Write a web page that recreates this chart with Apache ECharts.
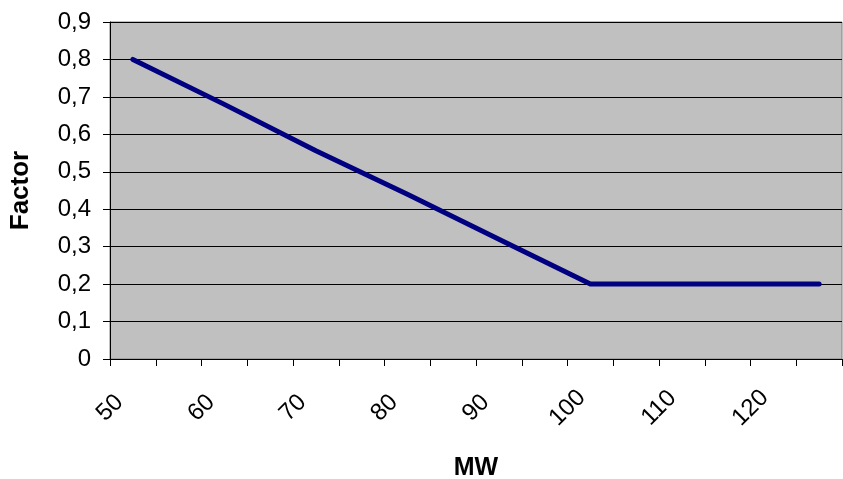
<!DOCTYPE html>
<html>
<head>
<meta charset="utf-8">
<script src="https://cdn.jsdelivr.net/npm/echarts@6/dist/echarts.min.js"></script>
<style>
html,body{margin:0;padding:0;background:#fff;}
#chart{width:843px;height:479px;}
</style>
</head>
<body>
<div id="chart"></div>
<script>
const mwValues = [52.5, 62.5, 72.5, 82.5, 92.5, 102.5, 122.5, 127.5];
const factorValues = [0.8, 0.68, 0.556, 0.44, 0.32, 0.2, 0.2, 0.2];
const xTickLabels = [50, 60, 70, 80, 90, 100, 110, 120];
const xTitle = 'MW';
const yTitle = 'Factor';

const chart = echarts.init(document.getElementById('chart'), null, {renderer: 'canvas'});
const font = '"Liberation Sans", Arial, sans-serif';
chart.setOption({
  animation: false,
  backgroundColor: '#ffffff',
  grid: {
    left: 110, right: 1, top: 22, bottom: 120,
    containLabel: false,
    outerBoundsMode: 'none',
    show: true, backgroundColor: '#C0C0C0', borderColor: '#808080', borderWidth: 1
  },
  xAxis: {
    type: 'value',
    min: 50, max: 130, interval: 5,
    name: xTitle,
    nameLocation: 'middle',
    nameGap: 97,
    nameTextStyle: {fontFamily: font, fontWeight: 'bold', fontSize: 25, color: '#000'},
    axisLine: {show: true, onZero: false, lineStyle: {color: '#000', width: 1}},
    axisTick: {show: true, length: 7, lineStyle: {color: '#000'}},
    splitLine: {show: false},
    axisLabel: {
      rotate: 45, margin: 49, align: 'center', verticalAlign: 'middle',
      fontFamily: font, fontSize: 24, color: '#000',
      formatter: function (v) { return xTickLabels.indexOf(v) >= 0 ? String(v) : ''; }
    }
  },
  yAxis: {
    type: 'value',
    min: 0, max: 0.9, interval: 0.1,
    name: yTitle,
    nameLocation: 'middle',
    nameGap: 76,
    nameRotate: 90,
    nameTextStyle: {fontFamily: font, fontWeight: 'bold', fontSize: 26, color: '#000'},
    axisLine: {show: true, lineStyle: {color: '#000', width: 1}},
    axisTick: {show: true, length: 7, lineStyle: {color: '#000'}},
    splitLine: {show: true, lineStyle: {color: '#000', width: 1}},
    axisLabel: {
      margin: 19, fontFamily: font, fontSize: 24, color: '#000',
      formatter: function (v) { return (Math.round(v * 10) / 10).toString().replace('.', ','); }
    }
  },
  series: [{
    type: 'line',
    data: mwValues.map((x, i) => [x, factorValues[i]]),
    showSymbol: false,
    symbol: 'none',
    lineStyle: {color: '#000080', width: 5, cap: 'round', join: 'round'},
    z: 5
  }]
});
</script>
</body>
</html>
